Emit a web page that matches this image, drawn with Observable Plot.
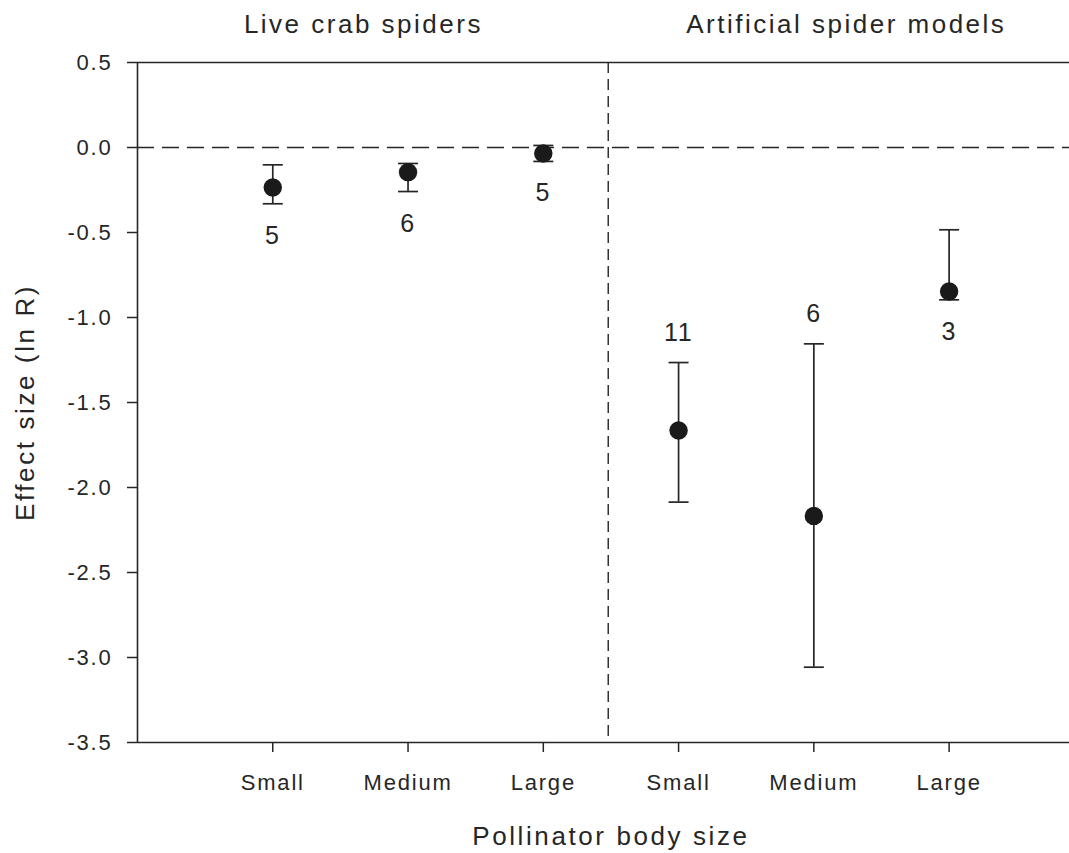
<!DOCTYPE html>
<html>
<head>
<meta charset="utf-8">
<script src="https://cdn.jsdelivr.net/npm/d3@7"></script>
<script src="https://cdn.jsdelivr.net/npm/@observablehq/plot@0.6"></script>
<style>
  html, body { margin: 0; padding: 0; background: #fff; }
  #chart svg { display: block; }
  g[aria-label$="tick label"] text { letter-spacing: 1.8px; }
  text[aria-label="group title"] { letter-spacing: 2.5px; }
  text[aria-label="axis title"] { letter-spacing: 2.6px; }
  text[aria-label="n label"] { letter-spacing: 1.5px; }
</style>
</head>
<body>
<div id="chart"></div>
<script>
// ---- data ----
const groups = ["Live crab spiders", "Live crab spiders", "Live crab spiders",
                "Artificial spider models", "Artificial spider models", "Artificial spider models"];
const sizes = ["Small", "Medium", "Large", "Small", "Medium", "Large"];
const means = [-0.235, -0.145, -0.035, -1.665, -2.167, -0.847];
const upper = [-0.102, -0.094, 0.012, -1.265, -1.155, -0.484];
const lower = [-0.331, -0.259, -0.082, -2.086, -3.057, -0.896];
const nLabels = ["5", "6", "5", "11", "6", "3"];
const nSide = ["below", "below", "below", "above", "above", "below"];
const yTicks = [0.5, 0.0, -0.5, -1.0, -1.5, -2.0, -2.5, -3.0, -3.5];
const groupTitles = ["Live crab spiders", "Artificial spider models"];

const rows = sizes.map((s, i) => ({
  group: groups[i], size: s, pos: i + 1,
  mean: means[i], hi: upper[i], lo: lower[i],
  n: nLabels[i], side: nSide[i]
}));

const ink = "#262626";
const capHalf = 0.074; // half cap width in x units
const font = "'Liberation Sans', Arial, Helvetica, sans-serif";

const chart = Plot.plot({
  width: 1069,
  height: 853,
  marginLeft: 137,
  marginRight: 0,
  marginTop: 62,
  marginBottom: 111,
  style: { fontFamily: font, color: ink, background: "#fff" },
  x: { domain: [0, 6.89], axis: null },
  y: { domain: [-3.5, 0.5], axis: null },
  marks: [
    // frame lines
    Plot.ruleY([0.5, -3.5], { stroke: ink, strokeWidth: 1.6 }),
    Plot.ruleX([0], { stroke: ink, strokeWidth: 1.6 }),
    // reference lines
    Plot.ruleY([0], { stroke: ink, strokeWidth: 1.6, strokeDasharray: "17,8" }),
    Plot.ruleX([3.48], { stroke: ink, strokeWidth: 1.4, strokeDasharray: "11,6" }),
    // axes
    Plot.axisY({ ticks: yTicks, tickFormat: d => d.toFixed(1), tickSize: 10, tickPadding: 15,
                 fontSize: 22, label: null, stroke: ink, strokeWidth: 1.5 }),
    Plot.axisX({ ticks: rows.map(d => d.pos), tickFormat: d => sizes[d - 1], tickSize: 10,
                 tickPadding: 22, fontSize: 22, label: null, stroke: ink, strokeWidth: 1.5 }),
    // error bars
    Plot.ruleX(rows, { x: "pos", y1: "lo", y2: "hi", stroke: ink, strokeWidth: 1.7 }),
    Plot.link(rows, { x1: d => d.pos - capHalf, x2: d => d.pos + capHalf, y1: "hi", y2: "hi",
                      stroke: ink, strokeWidth: 1.7 }),
    Plot.link(rows, { x1: d => d.pos - capHalf, x2: d => d.pos + capHalf, y1: "lo", y2: "lo",
                      stroke: ink, strokeWidth: 1.7 }),
    // means
    Plot.dot(rows, { x: "pos", y: "mean", r: 9.2, fill: "#1a1a1a", stroke: null }),
    // sample size labels
    Plot.text(rows.filter(d => d.side === "below"), { x: "pos", y: "lo", text: "n", dy: 32,
              lineAnchor: "middle", fontSize: 25, fill: ink, ariaLabel: () => "n label" }),
    Plot.text(rows.filter(d => d.side === "above"), { x: "pos", y: "hi", text: "n", dy: -30,
              lineAnchor: "middle", fontSize: 25, fill: ink, ariaLabel: () => "n label" }),
    // group titles
    Plot.text([groupTitles[0]], { x: () => 1.67, frameAnchor: "top", dy: -38, text: d => d,
              lineAnchor: "middle", textAnchor: "middle",
              fontSize: 26, fill: ink, ariaLabel: () => "group title" }),
    Plot.text([groupTitles[1]], { x: () => 5.24, frameAnchor: "top", dy: -38, text: d => d,
              lineAnchor: "middle", textAnchor: "middle",
              fontSize: 26, fill: ink, ariaLabel: () => "group title" }),
    // axis titles
    Plot.text(["Pollinator body size"], { x: () => 3.5, frameAnchor: "bottom", dy: 94, text: d => d,
              lineAnchor: "middle", textAnchor: "middle",
              fontSize: 26, fill: ink, ariaLabel: () => "axis title" }),
    Plot.text(["Effect size (ln R)"], { frameAnchor: "left", dx: -112, rotate: -90, text: d => d,
              lineAnchor: "middle", textAnchor: "middle",
              fontSize: 26, fill: ink, ariaLabel: () => "axis title" })
  ]
});

document.getElementById("chart").appendChild(chart);
</script>
</body>
</html>
